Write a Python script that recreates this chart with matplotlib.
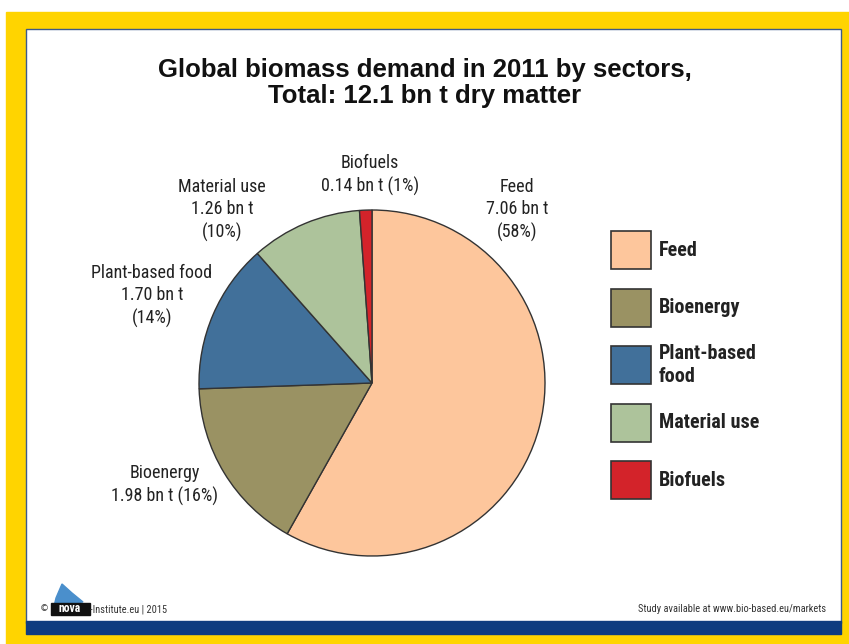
import matplotlib.pyplot as plt
from matplotlib.patches import Rectangle, Polygon

# --------------------------------------------------
# Data
# --------------------------------------------------
sectors = ["Feed", "Bioenergy", "Plant-based food", "Material use", "Biofuels"]
legend_names = ["Feed", "Bioenergy", "Plant-based\nfood", "Material use", "Biofuels"]
demand_bn_t = [7.06, 1.98, 1.70, 1.26, 0.14]
shares = [58, 16, 14, 10, 1]
colors = ["#FDC69C", "#9A9263", "#41709A", "#ADC39B", "#D3232A"]

W, H = 849, 644
narrow = ["Roboto Condensed", "Archivo Narrow", "DejaVu Sans"]
bold = ["Liberation Sans", "DejaVu Sans"]

fig = plt.figure(figsize=(W / 100, H / 100), dpi=100)
fig.patch.set_facecolor("white")

# background / frame axes in pixel units
bg = fig.add_axes([0, 0, 1, 1])
bg.set_xlim(0, W)
bg.set_ylim(H, 0)
bg.axis("off")
bg.add_patch(Rectangle((6, 12), W - 6, H - 12, color="#FFD400", zorder=0))
bg.add_patch(Rectangle((26, 29), 815, 594, facecolor="white",
                       edgecolor="#3D5A8A", lw=1, zorder=1))
bg.add_patch(Rectangle((26, 621), 815, 13, color="#0E3C80", zorder=2))

# title
bg.text(425, 83, "Global biomass demand in 2011 by sectors,\nTotal: 12.1 bn t dry matter",
        ha="center", va="center", fontsize=18.5, fontweight="bold",
        family=bold, color="#111111", linespacing=1.15, zorder=3)

# --------------------------------------------------
# Pie
# --------------------------------------------------
cx, cy, r = 372, 383, 173
ax = fig.add_axes([(cx - r) / W, (H - cy - r) / H, 2 * r / W, 2 * r / H])
ax.pie(demand_bn_t, colors=colors, startangle=90, counterclock=False,
       wedgeprops=dict(edgecolor="#333333", linewidth=1))
ax.set_xlim(-1, 1)
ax.set_ylim(-1, 1)
ax.set_aspect("equal")

labels = [
    f"{sectors[0]}\n{demand_bn_t[0]:.2f} bn t\n({shares[0]}%)",
    f"{sectors[1]}\n{demand_bn_t[1]:.2f} bn t ({shares[1]}%)",
    f"{sectors[2]}\n{demand_bn_t[2]:.2f} bn t\n({shares[2]}%)",
    f"{sectors[3]}\n{demand_bn_t[3]:.2f} bn t\n({shares[3]}%)",
    f"{sectors[4]}\n{demand_bn_t[4]:.2f} bn t ({shares[4]}%)",
]
label_pos = [(517, 210), (165, 485), (152, 296), (222, 210), (370, 175)]
for txt, (x, y) in zip(labels, label_pos):
    bg.text(x, y, txt, ha="center", va="center", fontsize=13, family=narrow,
            color="#222222", linespacing=1.32, zorder=3)

# --------------------------------------------------
# Legend
# --------------------------------------------------
for i, (name, c) in enumerate(zip(legend_names, colors)):
    y0 = 231 + i * 57.5
    bg.add_patch(Rectangle((611, y0), 40, 38, facecolor=c,
                           edgecolor="#333333", lw=1.2, zorder=3))
    bg.text(659, y0 + 19, name, ha="left", va="center", fontsize=14.5,
            fontweight="bold", family=narrow, color="#222222",
            linespacing=1.3, zorder=3)

# --------------------------------------------------
# Footer
# --------------------------------------------------
bg.add_patch(Polygon([(52, 615), (56, 598), (62, 584), (72, 593), (83, 602), (66, 604)],
                     closed=True, color="#4A8FCC", zorder=3))
bg.add_patch(Rectangle((51, 603), 39, 12, color="#111111", zorder=4))
bg.text(70, 609, "nova", ha="center", va="center", fontsize=8.5,
        fontweight="bold", color="white", family=narrow, zorder=5)
bg.text(40, 609, "©", ha="left", va="center", fontsize=6.5, color="#333333", zorder=5)
bg.text(90, 609, "-Institute.eu | 2015", ha="left", va="center",
        fontsize=7.5, family=narrow, color="#333333", zorder=5)
bg.text(826, 609, "Study available at www.bio-based.eu/markets", ha="right",
        va="center", fontsize=7.5, family=narrow, color="#333333", zorder=5)

plt.savefig("out.png", dpi=100)
